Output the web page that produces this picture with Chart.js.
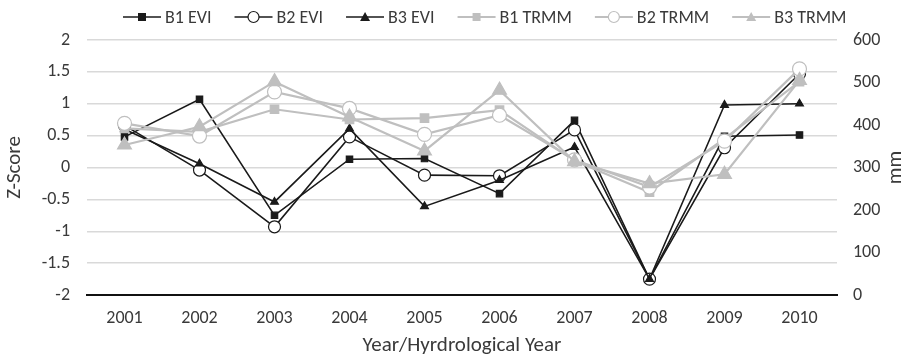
<!DOCTYPE html>
<html>
<head>
<meta charset="utf-8">
<script src="https://cdn.jsdelivr.net/npm/chart.js@4"></script>
<style>
  html, body { margin: 0; padding: 0; background: #fff; }
  #wrap { width: 911px; height: 358px; }
</style>
</head>
<body>
<div id="wrap"><canvas id="chart"></canvas></div>
<script>
// données
const years = ["2001", "2002", "2003", "2004", "2005", "2006", "2007", "2008", "2009", "2010"];
const zTicks = [-2, -1.5, -1, -0.5, 0, 0.5, 1, 1.5, 2];
const mmTicks = [0, 100, 200, 300, 400, 500, 600];

// Z-Score (axe gauche)
const b1Evi = [0.48, 1.07, -0.75, 0.13, 0.14, -0.41, 0.74, -1.75, 0.49, 0.51];
const b2Evi = [0.66, -0.04, -0.93, 0.48, -0.12, -0.13, 0.59, -1.75, 0.31, 1.47];
const b3Evi = [0.6, 0.06, -0.54, 0.61, -0.61, -0.2, 0.32, -1.75, 0.98, 1.0];

// pluie en mm (axe droit)
const b1Trmm = [392, 384, 437, 413, 416, 435, 316, 242, 368, 502];
const b2Trmm = [404, 374, 478, 439, 378, 423, 318, 254, 362, 532];
const b3Trmm = [353, 396, 502, 419, 339, 482, 314, 262, 284, 505];

const black = "#1a1a1a";
const grey = "#bfbfbf";
const textColor = "#3a3a3a";
const font = "Carlito, Lato, 'Open Sans', sans-serif";

function serie(label, data, axis, color, style, fill, radius, lw, order) {
  return {
    label: label,
    data: data,
    yAxisID: axis,
    borderColor: color,
    backgroundColor: fill,
    pointBorderColor: color,
    pointBackgroundColor: fill,
    pointStyle: style,
    pointRadius: radius,
    pointBorderWidth: 1.2,
    borderWidth: lw,
    tension: 0,
    order: order,
  };
}

const datasets = [
  serie("B1 EVI", b1Evi, "y", black, "rect", black, 4.5, 1.6, 6),
  serie("B2 EVI", b2Evi, "y", black, "circle", "#fff", 6, 1.6, 5),
  serie("B3 EVI", b3Evi, "y", black, "triangle", black, 4.5, 1.6, 4),
  serie("B1 TRMM", b1Trmm, "y1", grey, "rect", grey, 6, 2.2, 3),
  serie("B2 TRMM", b2Trmm, "y1", grey, "circle", "#fff", 7, 2.2, 2),
  serie("B3 TRMM", b3Trmm, "y1", grey, "triangle", grey, 8, 2.2, 1),
];

// légende façon Excel (trait + marqueur) et titre "mm" tourné
const excelLegend = {
  id: "excelLegend",
  afterDraw(chart) {
    const ctx = chart.ctx;
    ctx.save();
    ctx.font = "18px " + font;
    ctx.textBaseline = "middle";
    let x = 123;
    const y = 17;
    chart.data.datasets.forEach((ds) => {
      const w = 38;
      const cx = x + w / 2;
      ctx.strokeStyle = ds.borderColor;
      ctx.lineWidth = ds.borderWidth;
      ctx.beginPath(); ctx.moveTo(x, y); ctx.lineTo(x + w, y); ctx.stroke();
      ctx.fillStyle = ds.pointBackgroundColor;
      ctx.lineWidth = 1.2;
      ctx.beginPath();
      if (ds.pointStyle === "rect") {
        ctx.rect(cx - 4, y - 4, 8, 8);
        ctx.fill();
      } else if (ds.pointStyle === "circle") {
        ctx.arc(cx, y, 5.5, 0, Math.PI * 2);
        ctx.fill(); ctx.stroke();
      } else {
        ctx.moveTo(cx, y - 5);
        ctx.lineTo(cx + 5, y + 4);
        ctx.lineTo(cx - 5, y + 4);
        ctx.closePath();
        ctx.fill();
      }
      ctx.fillStyle = textColor;
      ctx.fillText(ds.label, x + w + 4, y + 1);
      x += w + 4 + ctx.measureText(ds.label).width + 23;
    });
    // titre de l'axe droit
    ctx.font = "21px " + font;
    ctx.textAlign = "center";
    ctx.translate(896, (chart.chartArea.top + chart.chartArea.bottom) / 2);
    ctx.rotate(-Math.PI / 2);
    ctx.fillText("mm", 0, 0);
    ctx.restore();
  },
};

new Chart(document.getElementById("chart"), {
  type: "line",
  data: { labels: years, datasets: datasets },
  plugins: [excelLegend],
  options: {
    responsive: true,
    maintainAspectRatio: false,
    animation: false,
    layout: { padding: { top: 40 } },
    plugins: {
      tooltip: { enabled: false },
      legend: { display: false },
    },
    scales: {
      x: {
        offset: true,
        grid: { display: false },
        border: { color: "#111", width: 2 },
        ticks: { color: textColor, font: { family: font, size: 18 }, padding: 5 },
        title: { display: true, text: "Year/Hyrdrological Year", color: textColor, font: { family: font, size: 21 }, padding: { top: 4, bottom: 0 } },
        afterFit: (s) => { s.height = 63; },
      },
      y: {
        position: "left",
        min: -2,
        max: 2,
        afterBuildTicks: (s) => { s.ticks = zTicks.map((v) => ({ value: v })); },
        grid: { color: "#d9d9d9", lineWidth: 1.5, drawTicks: false },
        border: { display: false },
        ticks: { color: textColor, font: { family: font, size: 18 }, padding: 17, callback: (v) => String(v) },
        title: { display: true, text: "Z-Score", color: textColor, font: { family: font, size: 21 }, padding: { top: 2, bottom: 4 } },
        afterFit: (s) => { s.width = 87; },
      },
      y1: {
        position: "right",
        min: 0,
        max: 600,
        afterBuildTicks: (s) => { s.ticks = mmTicks.map((v) => ({ value: v })); },
        grid: { display: false, drawTicks: false },
        border: { display: false },
        ticks: { color: textColor, font: { family: font, size: 18 }, padding: 16, callback: (v) => String(v) },
        afterFit: (s) => { s.width = 74; },
      },
    },
  },
});
</script>
</body>
</html>
